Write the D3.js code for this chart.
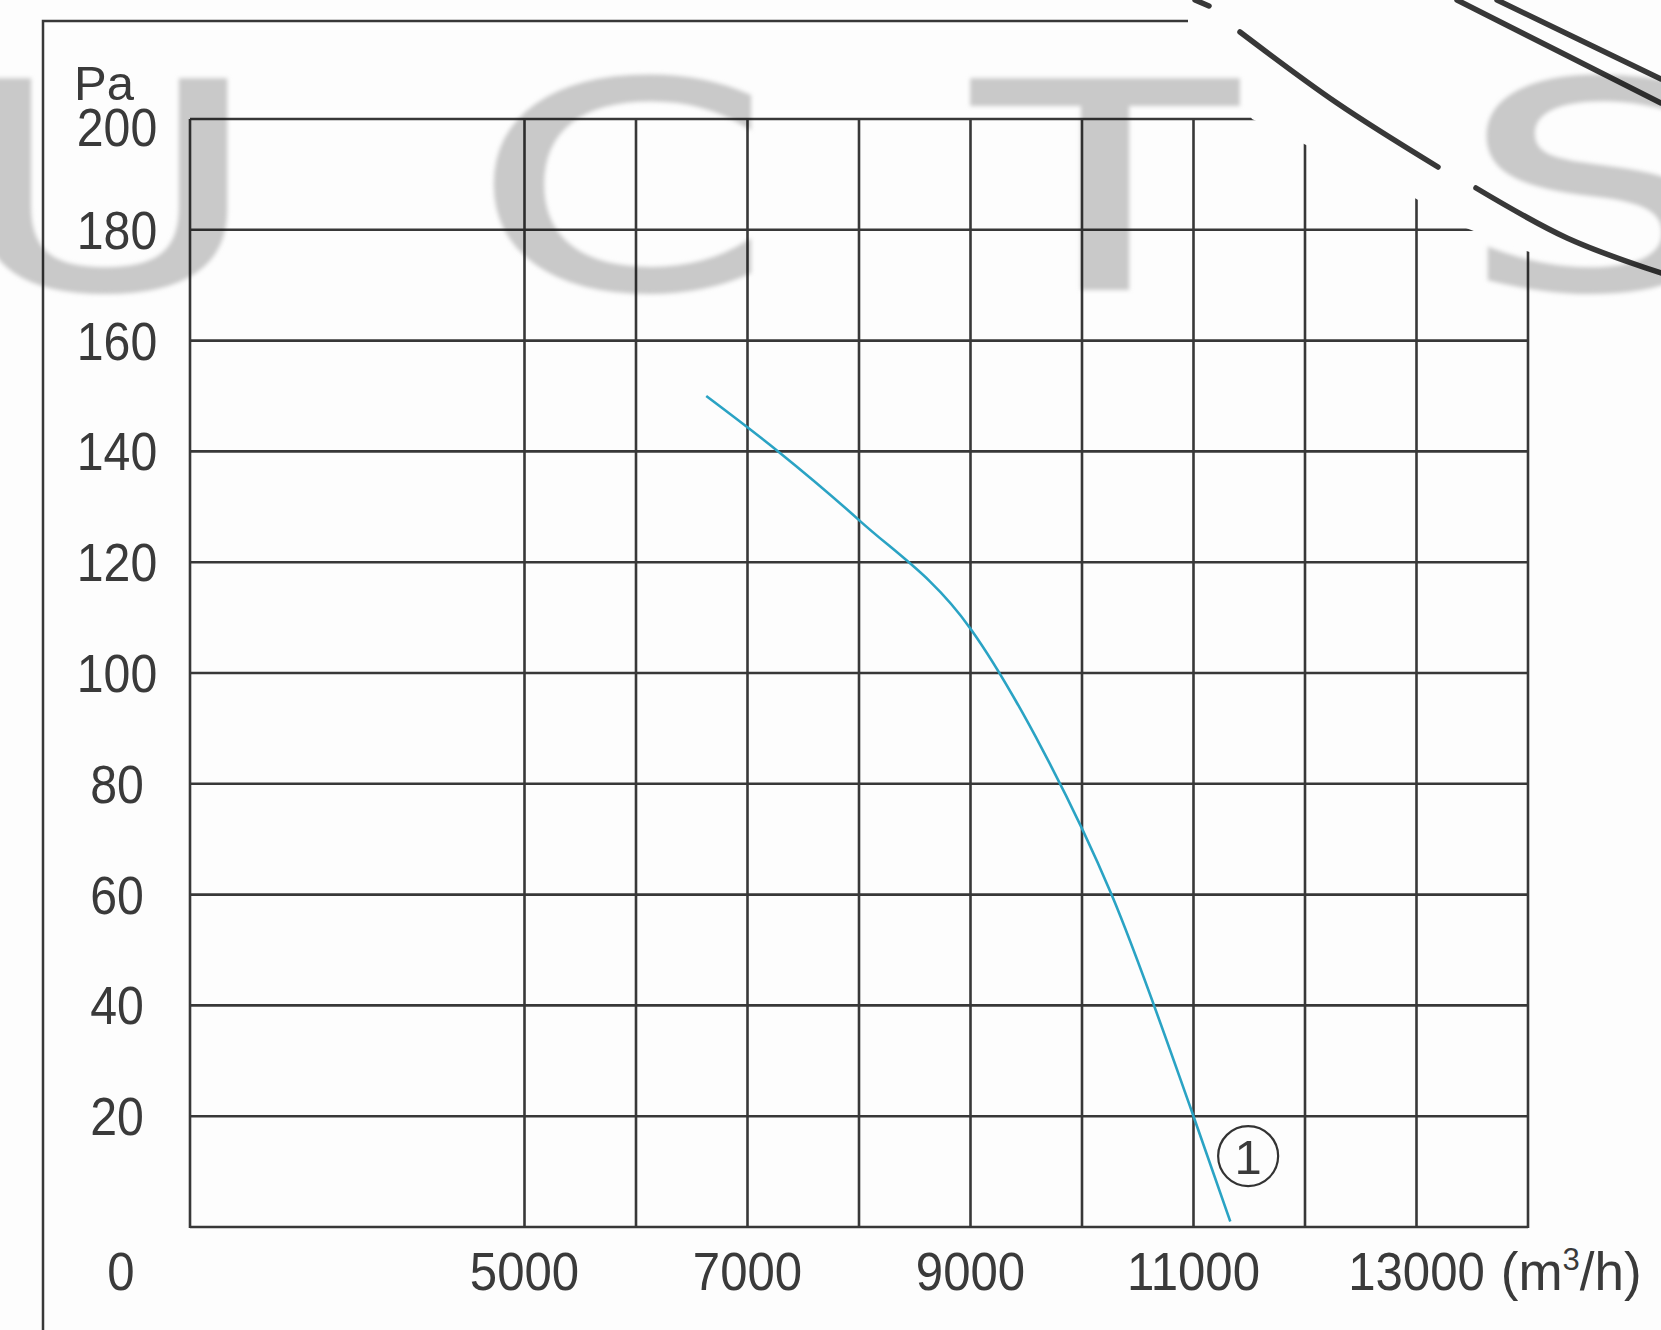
<!DOCTYPE html>
<html>
<head>
<meta charset="utf-8">
<script src="https://cdn.jsdelivr.net/npm/d3@7"></script>
<style>
  html, body { margin: 0; padding: 0; background: #fdfdfd; }
  #chart { width: 1661px; height: 1330px; }
  text { font-family: "Liberation Sans", Arial, sans-serif; fill: #3a3a3a; }
</style>
</head>
<body>
<div id="chart"></div>
<script>
// fan curve (1)
const flow     = [6630, 7275, 8000, 9000, 9650, 10265, 11000, 11330];
const pressure = [150, 140, 127.6, 108, 86, 60, 20, 1];

const yTicks = [20, 40, 60, 80, 100, 120, 140, 160, 180, 200];
const xGrid  = [5000, 6000, 7000, 8000, 9000, 10000, 11000, 12000, 13000, 14000];
const xLabels = [5000, 7000, 9000, 11000, 13000];
const curveName = '1';
const watermark = ['U', 'C', 'T', 'S'];

const W = 1661, H = 1330;
const gridColor = '#383838';
const squeeze = 0.91;   // scanned digits are a bit narrow

const svg = d3.select('#chart').append('svg')
  .attr('width', W).attr('height', H);

const x = d3.scaleLinear().domain([2000, 14000]).range([190, 1528]);
const y = d3.scaleLinear().domain([0, 200]).range([1227, 119]);

// outer frame (only top + left visible)
svg.append('path')
  .attr('d', `M43,${H} L43,21 L1188,21`)
  .attr('fill', 'none').attr('stroke', gridColor).attr('stroke-width', 2.5);

// grid
const grid = svg.append('g').attr('stroke', gridColor).attr('stroke-width', 2.6);
grid.selectAll('line.h').data([0].concat(yTicks)).enter().append('line')
  .attr('x1', x(2000)).attr('x2', x(14000))
  .attr('y1', d => y(d)).attr('y2', d => y(d));
grid.selectAll('line.v').data([2000].concat(xGrid)).enter().append('line')
  .attr('x1', d => x(d)).attr('x2', d => x(d))
  .attr('y1', y(0) + 1).attr('y2', y(200));

// white swoosh covering the top-right corner of the grid
svg.append('path')
  .attr('d', 'M1184,0 L1252,119 L1302,143 L1413,197 L1466,228 L1523,250 L1661,292 L1661,0 Z')
  .attr('fill', '#fdfdfd');

const swoosh = [
  [[1195, 0], [1209, 6]],
  [[1240, 32], [1337, 103], [1438, 167]],
  [[1476, 188], [1567, 238], [1661, 273]],
  [[1457, 0], [1560, 52], [1661, 103]],
  [[1497, 0], [1580, 40], [1661, 79]]
];
const swooshLine = d3.line().curve(d3.curveNatural);
svg.append('g').selectAll('path').data(swoosh).enter().append('path')
  .attr('d', swooshLine)
  .attr('fill', 'none').attr('stroke', '#383838')
  .attr('stroke-width', 5.5).attr('stroke-linecap', 'round');

// y labels
svg.append('text').attr('x', 74).attr('y', 100)
  .attr('font-size', 49).text('Pa');
svg.selectAll('text.yl').data(yTicks).enter().append('text')
  .attr('class', 'yl')
  .attr('transform', d => `translate(117,${y(d) + (d === 200 ? 8 : 0)}) scale(${squeeze},1)`)
  .attr('dy', '0.36em')
  .attr('text-anchor', 'middle')
  .attr('font-size', 53)
  .text(d => d);

// x labels
const baseY = 1290;
svg.append('text')
  .attr('transform', `translate(121,${baseY}) scale(${squeeze},1)`)
  .attr('text-anchor', 'middle').attr('font-size', 54).text('0');
const xl = svg.selectAll('text.xl').data(xLabels).enter().append('text')
  .attr('class', 'xl')
  .attr('transform', d => `translate(${x(d)},${baseY}) scale(${squeeze},1)`)
  .attr('text-anchor', 'middle').attr('font-size', 54)
  .text(d => d);
const lastW = xl.filter(d => d === 13000).node().getComputedTextLength() * squeeze;
const unit = svg.append('text')
  .attr('x', x(13000) + lastW / 2 + 16).attr('y', baseY)
  .attr('font-size', 53);
unit.append('tspan').text('(m');
unit.append('tspan').attr('font-size', 31).attr('dy', -20).text('3');
unit.append('tspan').attr('dy', 20).text('/h)');

// curve
const pts = flow.map((f, i) => [f, pressure[i]]);
svg.append('path')
  .datum(pts)
  .attr('d', d3.line().x(d => x(d[0])).y(d => y(d[1])).curve(d3.curveMonotoneX))
  .attr('fill', 'none')
  .attr('stroke', '#2aa3c4')
  .attr('stroke-width', 2.6);

// circled curve number
const mark = svg.append('g').attr('transform', `translate(${x(11490)},${y(12.8)})`);
mark.append('circle').attr('r', 30).attr('fill', 'none')
  .attr('stroke', '#333').attr('stroke-width', 2.2);
mark.append('text').attr('text-anchor', 'middle').attr('dy', '0.36em')
  .attr('font-size', 49).text(curveName);

// faded watermark letters on top
const defs = svg.append('defs');
defs.append('filter').attr('id', 'soft')
  .append('feGaussianBlur').attr('stdDeviation', 2);
const wmX = [105, 622, 1105, 1597];
svg.append('g')
  .style('mix-blend-mode', 'multiply')
  .attr('filter', 'url(#soft)')
  .selectAll('text').data(watermark).enter().append('text')
  .attr('transform', (d, i) => `translate(${wmX[i]},288) scale(1.5,1)`)
  .attr('text-anchor', 'middle')
  .style('font-family', '"DejaVu Sans", sans-serif')
  .style('font-size', '285px')
  .style('fill', '#cbcbcb')
  .style('stroke', '#cbcbcb')
  .style('stroke-width', 4)
  .text(d => d);
</script>
</body>
</html>
